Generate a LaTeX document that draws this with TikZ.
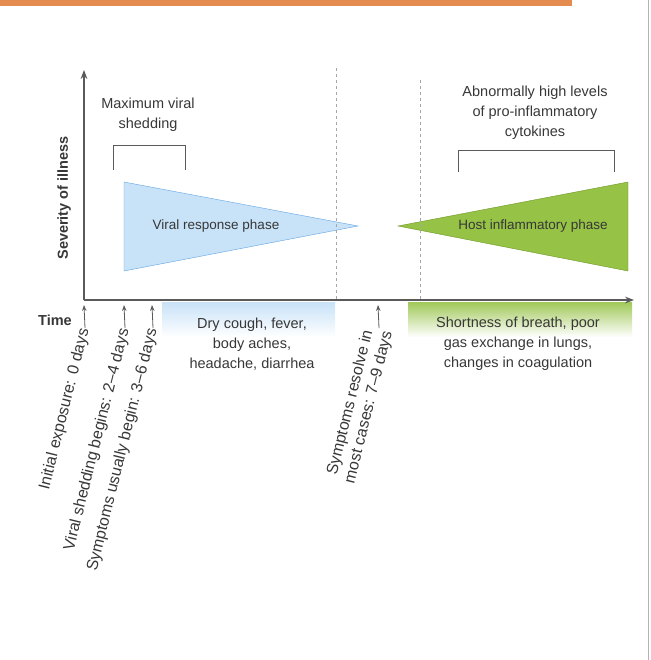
\documentclass[tikz,border=0pt]{standalone}
\usepackage{fontspec}
\setmainfont{Liberation Sans}
\usetikzlibrary{arrows.meta}
\definecolor{TextGrey}{RGB}{55,55,55}
\definecolor{AxisGrey}{RGB}{90,90,90}
\definecolor{ViralFill}{RGB}{200,226,248}
\definecolor{ViralEdge}{RGB}{95,165,225}
\definecolor{HostFill}{RGB}{150,194,70}
\definecolor{HostEdge}{RGB}{110,150,40}
\definecolor{Stripe}{RGB}{228,140,80}
\tikzset{
  label text/.style={text=TextGrey, font=\fontsize{14.5}{20}\selectfont, align=center},
  day text/.style={text=TextGrey, font=\fontsize{16}{19}\selectfont, rotate=76, anchor=east, align=center, inner sep=1pt},
  day arrow/.style={AxisGrey, thick, -{Stealth[length=6pt]}},
}
\begin{document}
\begin{tikzpicture}[x=1pt,y=-1pt]

  \useasboundingbox (0,0) rectangle (650,660);

  \fill[Stripe] (0,0) rectangle (572,6);
  \draw[gray!60] (648,0) -- (648,660);

  % phases
  \draw[ViralEdge, fill=ViralFill] (124,182) -- (358,226) -- (124,271) -- cycle;
  \draw[HostEdge, fill=HostFill] (628,182) -- (398,226) -- (628,271) -- cycle;
  \node[label text, font=\fontsize{13.5}{16}\selectfont] (viral) at (216,226) {Viral response phase};
  \node[label text, font=\fontsize{13.5}{16}\selectfont] (host) at (533,226) {Host inflammatory phase};

  \draw[gray!70, dashed] (336,68) -- (336,300);
  \draw[gray!70, dashed] (420,80) -- (420,300);

  % brackets
  \draw[AxisGrey, thick] (113,170) -- (113,145) -- (185,145) -- (185,170);
  \node[label text] (shed) at (148,115) {Maximum viral\\shedding};
  \draw[AxisGrey, thick] (458,172) -- (458,150) -- (614,150) -- (614,172);
  \node[label text] (cyto) at (535,113) {Abnormally high levels\\of pro-inflammatory\\cytokines};

  % symptom boxes
  \shade[top color=ViralFill, bottom color=white] (162,302) rectangle (335,337);
  \shade[top color=HostFill!90, bottom color=white] (408,302) rectangle (632,337);
  \node[label text] (mild) at (252,344) {Dry cough, fever,\\body aches,\\headache, diarrhea};
  \node[label text] (severe) at (518,344) {Shortness of breath, poor\\gas exchange in lungs,\\changes in coagulation};

  % axes
  \draw[AxisGrey, line width=1.4pt, -{Stealth[length=9pt]}] (84,300) -- (84,70);
  \draw[AxisGrey, line width=1.4pt, -{Stealth[length=9pt]}] (84,300) -- (634,300);
  \node[font=\bfseries\fontsize{14.5}{16}\selectfont, text=TextGrey, rotate=90] (sev) at (64,198) {Severity of illness};
  \node[font=\bfseries\fontsize{14.5}{16}\selectfont, text=TextGrey] (time) at (55,320) {Time};

  % day markers
  \foreach \name/\x/\txt in {exp/84/{Initial exposure: 0 days},
      shedbeg/124/{Viral shedding begins: 2--4 days},
      symbeg/152/{Symptoms usually begin: 3--6 days},
      resolve/378/{Symptoms resolve in\\most cases: 7--9 days}} {
    \coordinate (\name top) at (\x,305);
    \node[day text] (\name) at (\x+1,328) {\txt};
    \draw[day arrow] (\name.east) -- (\name top);
  }

\end{tikzpicture}
\end{document}
